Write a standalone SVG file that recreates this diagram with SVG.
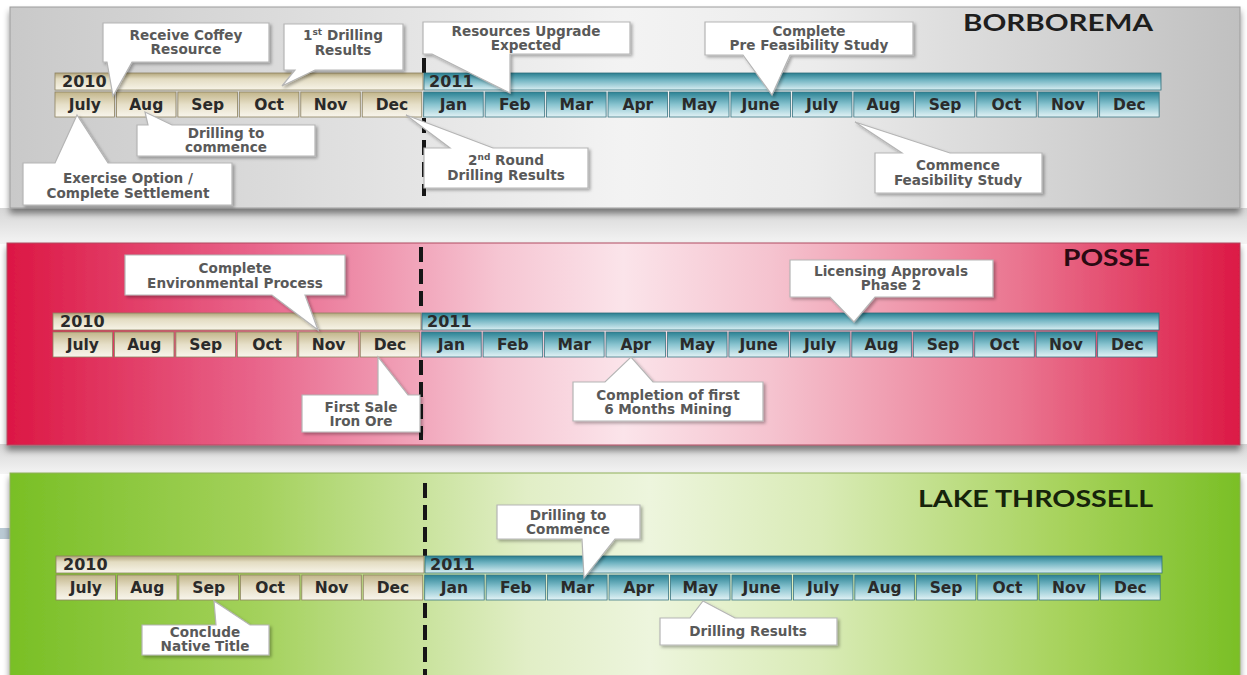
<svg xmlns="http://www.w3.org/2000/svg" width="1247" height="675" viewBox="0 0 1247 675">
<defs>
<linearGradient id="gGray" x1="0" y1="0" x2="1" y2="0">
<stop offset="0" stop-color="#c9c9c9"/><stop offset="0.3" stop-color="#e2e2e2"/><stop offset="0.5" stop-color="#f3f3f3"/><stop offset="0.65" stop-color="#ececec"/><stop offset="1" stop-color="#c0c0c0"/>
</linearGradient>
<linearGradient id="gRed" x1="0" y1="0" x2="1" y2="0">
<stop offset="0" stop-color="#dc1744"/><stop offset="0.2" stop-color="#e8648a"/><stop offset="0.4" stop-color="#f6c6d3"/><stop offset="0.5" stop-color="#fbe4ea"/><stop offset="0.62" stop-color="#f5c3cf"/><stop offset="0.82" stop-color="#ea7590"/><stop offset="1" stop-color="#dc1945"/>
</linearGradient>
<linearGradient id="gGreen" x1="0" y1="0" x2="1" y2="0">
<stop offset="0" stop-color="#79bf25"/><stop offset="0.2" stop-color="#a3d15b"/><stop offset="0.42" stop-color="#e1eec6"/><stop offset="0.52" stop-color="#edf5dd"/><stop offset="0.66" stop-color="#d9ebb6"/><stop offset="0.86" stop-color="#a6d25a"/><stop offset="1" stop-color="#7abf26"/>
</linearGradient>
<linearGradient id="gBand" x1="0" y1="0" x2="0" y2="1">
<stop offset="0" stop-color="#d6d6d6"/><stop offset="1" stop-color="#f4f4f4"/>
</linearGradient>
<linearGradient id="gBar10" x1="0" y1="0" x2="0" y2="1">
<stop offset="0" stop-color="#b3a67c"/><stop offset="0.35" stop-color="#e3dcc2"/><stop offset="1" stop-color="#f7f4e8"/>
</linearGradient>
<linearGradient id="gCell10" x1="0" y1="0" x2="0" y2="1">
<stop offset="0" stop-color="#c2b58a"/><stop offset="0.5" stop-color="#e6dfc8"/><stop offset="1" stop-color="#f8f5ec"/>
</linearGradient>
<linearGradient id="gBar11" x1="0" y1="0" x2="0" y2="1">
<stop offset="0" stop-color="#2a7f90"/><stop offset="0.4" stop-color="#6fb3c1"/><stop offset="1" stop-color="#d9eef2"/>
</linearGradient>
<linearGradient id="gCell11" x1="0" y1="0" x2="0" y2="1">
<stop offset="0" stop-color="#2b8294"/><stop offset="0.5" stop-color="#88c3cf"/><stop offset="1" stop-color="#e2f2f5"/>
</linearGradient>
<filter id="ps" x="-5%" y="-10%" width="110%" height="125%">
<feDropShadow dx="0" dy="5" stdDeviation="3" flood-color="#000" flood-opacity="0.45"/>
</filter>
<filter id="cs" x="-10%" y="-20%" width="125%" height="150%">
<feDropShadow dx="2" dy="2" stdDeviation="1.5" flood-color="#000" flood-opacity="0.3"/>
</filter>
<style>
.bar10{fill:url(#gBar10);stroke:#8d8260;stroke-width:0.8}
.bar11{fill:url(#gBar11);stroke:#2f6e7a;stroke-width:0.8}
.c10{fill:url(#gCell10);stroke:#8d8260;stroke-width:0.8}
.c11{fill:url(#gCell11);stroke:#3b7582;stroke-width:0.8}
.m{font-family:"DejaVu Sans",sans-serif;font-weight:bold;font-size:15.5px;fill:#2a2a2a;text-anchor:middle}
.y{font-family:"DejaVu Sans",sans-serif;font-weight:bold;font-size:16px;fill:#2a2a2a}
.co{fill:#ffffff;stroke:#b5b5b5;stroke-width:1.2;filter:url(#cs)}
.ct{font-family:"DejaVu Sans",sans-serif;font-weight:bold;font-size:13.6px;fill:#595959;text-anchor:middle}
.title{font-family:Lato,"DejaVu Sans",sans-serif;font-weight:bold;font-size:22px}
.div{stroke:#161616;stroke-width:4;stroke-dasharray:15 7;fill:none}
</style>
</defs>

<rect x="0" y="0" width="1247" height="675" fill="#ffffff"/>
<rect x="0" y="208" width="1247" height="36" fill="url(#gBand)"/>
<rect x="0" y="444" width="1247" height="30" fill="url(#gBand)"/>
<rect x="0" y="528" width="10" height="11" fill="#b9c9d3"/>

<g id="panel-borborema">
<rect x="10" y="7" width="1230" height="201" fill="url(#gGray)" stroke="#9c9c9c" stroke-width="1" filter="url(#ps)"/>
</g>
<g id="panel-posse">
<rect x="7" y="243" width="1233" height="202" fill="url(#gRed)" stroke="#b04a60" stroke-width="1" filter="url(#ps)"/>
</g>
<g id="panel-lake">
<rect x="10" y="473" width="1230" height="210" fill="url(#gGreen)" stroke="#8fb05a" stroke-width="1" filter="url(#ps)"/>
</g>

<g id="connectors">
<line class="div" x1="424" y1="58" x2="424" y2="73"/>
<line class="div" x1="424" y1="118" x2="424" y2="196"/>
<line class="div" x1="421" y1="247" x2="421" y2="313"/>
<line class="div" x1="421" y1="360" x2="421" y2="440"/>
<line class="div" x1="425" y1="483" x2="425" y2="556"/>
<line class="div" x1="425" y1="603" x2="425" y2="675"/>
</g>

<g id="timeline-borborema">
<rect class="bar10" x="55" y="73" width="368" height="17"/>
<rect class="bar11" x="424" y="73" width="737" height="17"/>
<text class="y" x="62" y="87">2010</text>
<text class="y" x="429" y="87">2011</text>
<rect class="c10" x="55" y="92" width="59.5" height="25"/>
<rect class="c10" x="116.45" y="92" width="59.5" height="25"/>
<rect class="c10" x="177.9" y="92" width="59.5" height="25"/>
<rect class="c10" x="239.35" y="92" width="59.5" height="25"/>
<rect class="c10" x="300.8" y="92" width="59.5" height="25"/>
<rect class="c10" x="362.25" y="92" width="59.5" height="25"/>
<rect class="c11" x="423.7" y="92" width="59.5" height="25"/>
<rect class="c11" x="485.15" y="92" width="59.5" height="25"/>
<rect class="c11" x="546.6" y="92" width="59.5" height="25"/>
<rect class="c11" x="608.05" y="92" width="59.5" height="25"/>
<rect class="c11" x="669.5" y="92" width="59.5" height="25"/>
<rect class="c11" x="730.95" y="92" width="59.5" height="25"/>
<rect class="c11" x="792.4" y="92" width="59.5" height="25"/>
<rect class="c11" x="853.85" y="92" width="59.5" height="25"/>
<rect class="c11" x="915.3" y="92" width="59.5" height="25"/>
<rect class="c11" x="976.75" y="92" width="59.5" height="25"/>
<rect class="c11" x="1038.2" y="92" width="59.5" height="25"/>
<rect class="c11" x="1099.65" y="92" width="59.5" height="25"/>
<text class="m" x="84.75" y="110">July</text>
<text class="m" x="146.2" y="110">Aug</text>
<text class="m" x="207.65" y="110">Sep</text>
<text class="m" x="269.1" y="110">Oct</text>
<text class="m" x="330.55" y="110">Nov</text>
<text class="m" x="392" y="110">Dec</text>
<text class="m" x="453.45" y="110">Jan</text>
<text class="m" x="514.9" y="110">Feb</text>
<text class="m" x="576.35" y="110">Mar</text>
<text class="m" x="637.8" y="110">Apr</text>
<text class="m" x="699.25" y="110">May</text>
<text class="m" x="760.7" y="110">June</text>
<text class="m" x="822.15" y="110">July</text>
<text class="m" x="883.6" y="110">Aug</text>
<text class="m" x="945.05" y="110">Sep</text>
<text class="m" x="1006.5" y="110">Oct</text>
<text class="m" x="1067.95" y="110">Nov</text>
<text class="m" x="1129.4" y="110">Dec</text>
</g>

<g id="timeline-posse" transform="translate(-2,240)">
<rect class="bar10" x="55" y="73" width="368" height="17"/>
<rect class="bar11" x="424" y="73" width="737" height="17"/>
<text class="y" x="62" y="87">2010</text>
<text class="y" x="429" y="87">2011</text>
<rect class="c10" x="55" y="92" width="59.5" height="25"/>
<rect class="c10" x="116.45" y="92" width="59.5" height="25"/>
<rect class="c10" x="177.9" y="92" width="59.5" height="25"/>
<rect class="c10" x="239.35" y="92" width="59.5" height="25"/>
<rect class="c10" x="300.8" y="92" width="59.5" height="25"/>
<rect class="c10" x="362.25" y="92" width="59.5" height="25"/>
<rect class="c11" x="423.7" y="92" width="59.5" height="25"/>
<rect class="c11" x="485.15" y="92" width="59.5" height="25"/>
<rect class="c11" x="546.6" y="92" width="59.5" height="25"/>
<rect class="c11" x="608.05" y="92" width="59.5" height="25"/>
<rect class="c11" x="669.5" y="92" width="59.5" height="25"/>
<rect class="c11" x="730.95" y="92" width="59.5" height="25"/>
<rect class="c11" x="792.4" y="92" width="59.5" height="25"/>
<rect class="c11" x="853.85" y="92" width="59.5" height="25"/>
<rect class="c11" x="915.3" y="92" width="59.5" height="25"/>
<rect class="c11" x="976.75" y="92" width="59.5" height="25"/>
<rect class="c11" x="1038.2" y="92" width="59.5" height="25"/>
<rect class="c11" x="1099.65" y="92" width="59.5" height="25"/>
<text class="m" x="84.75" y="110">July</text>
<text class="m" x="146.2" y="110">Aug</text>
<text class="m" x="207.65" y="110">Sep</text>
<text class="m" x="269.1" y="110">Oct</text>
<text class="m" x="330.55" y="110">Nov</text>
<text class="m" x="392" y="110">Dec</text>
<text class="m" x="453.45" y="110">Jan</text>
<text class="m" x="514.9" y="110">Feb</text>
<text class="m" x="576.35" y="110">Mar</text>
<text class="m" x="637.8" y="110">Apr</text>
<text class="m" x="699.25" y="110">May</text>
<text class="m" x="760.7" y="110">June</text>
<text class="m" x="822.15" y="110">July</text>
<text class="m" x="883.6" y="110">Aug</text>
<text class="m" x="945.05" y="110">Sep</text>
<text class="m" x="1006.5" y="110">Oct</text>
<text class="m" x="1067.95" y="110">Nov</text>
<text class="m" x="1129.4" y="110">Dec</text>
</g>

<g id="timeline-lake" transform="translate(1,483)">
<rect class="bar10" x="55" y="73" width="368" height="17"/>
<rect class="bar11" x="424" y="73" width="737" height="17"/>
<text class="y" x="62" y="87">2010</text>
<text class="y" x="429" y="87">2011</text>
<rect class="c10" x="55" y="92" width="59.5" height="25"/>
<rect class="c10" x="116.45" y="92" width="59.5" height="25"/>
<rect class="c10" x="177.9" y="92" width="59.5" height="25"/>
<rect class="c10" x="239.35" y="92" width="59.5" height="25"/>
<rect class="c10" x="300.8" y="92" width="59.5" height="25"/>
<rect class="c10" x="362.25" y="92" width="59.5" height="25"/>
<rect class="c11" x="423.7" y="92" width="59.5" height="25"/>
<rect class="c11" x="485.15" y="92" width="59.5" height="25"/>
<rect class="c11" x="546.6" y="92" width="59.5" height="25"/>
<rect class="c11" x="608.05" y="92" width="59.5" height="25"/>
<rect class="c11" x="669.5" y="92" width="59.5" height="25"/>
<rect class="c11" x="730.95" y="92" width="59.5" height="25"/>
<rect class="c11" x="792.4" y="92" width="59.5" height="25"/>
<rect class="c11" x="853.85" y="92" width="59.5" height="25"/>
<rect class="c11" x="915.3" y="92" width="59.5" height="25"/>
<rect class="c11" x="976.75" y="92" width="59.5" height="25"/>
<rect class="c11" x="1038.2" y="92" width="59.5" height="25"/>
<rect class="c11" x="1099.65" y="92" width="59.5" height="25"/>
<text class="m" x="84.75" y="110">July</text>
<text class="m" x="146.2" y="110">Aug</text>
<text class="m" x="207.65" y="110">Sep</text>
<text class="m" x="269.1" y="110">Oct</text>
<text class="m" x="330.55" y="110">Nov</text>
<text class="m" x="392" y="110">Dec</text>
<text class="m" x="453.45" y="110">Jan</text>
<text class="m" x="514.9" y="110">Feb</text>
<text class="m" x="576.35" y="110">Mar</text>
<text class="m" x="637.8" y="110">Apr</text>
<text class="m" x="699.25" y="110">May</text>
<text class="m" x="760.7" y="110">June</text>
<text class="m" x="822.15" y="110">July</text>
<text class="m" x="883.6" y="110">Aug</text>
<text class="m" x="945.05" y="110">Sep</text>
<text class="m" x="1006.5" y="110">Oct</text>
<text class="m" x="1067.95" y="110">Nov</text>
<text class="m" x="1129.4" y="110">Dec</text>
</g>

<!-- BORBOREMA callouts -->
<g id="c-receive-coffey">
<path class="co" d="M103,23 H269 V62 H132 L113,96 L107,62 H103 Z"/>
<text class="ct" x="186" y="40">Receive Coffey</text>
<text class="ct" x="186" y="54">Resource</text>
</g>
<g id="c-first-drilling">
<path class="co" d="M284,24 H403 V70 H315 L282,86 L295,70 H284 Z"/>
<text class="ct" x="343" y="40">1<tspan font-size="9" dy="-5">st</tspan><tspan dy="5"> Drilling</tspan></text>
<text class="ct" x="343" y="55">Results</text>
</g>
<g id="c-drilling-commence">
<path class="co" d="M137,125 H148 L145,112 L172,125 H315 V156 H137 Z"/>
<text class="ct" x="226" y="138">Drilling to</text>
<text class="ct" x="226" y="152">commence</text>
</g>
<g id="c-exercise-option">
<path class="co" d="M23,163 H55 L77,115 L108,163 H232 V205 H23 Z"/>
<text class="ct" x="128" y="183">Exercise Option /</text>
<text class="ct" x="128" y="198">Complete Settlement</text>
</g>
<g id="c-resources-upgrade">
<path class="co" d="M423,22 H630 V54 H510 V93 L432,54 H423 Z"/>
<text class="ct" x="526" y="36">Resources Upgrade</text>
<text class="ct" x="526" y="50">Expected</text>
</g>
<g id="c-pre-feasibility">
<path class="co" d="M705,22 H913 V55 H790 L772,95 L743,55 H705 Z"/>
<text class="ct" x="809" y="36">Complete</text>
<text class="ct" x="809" y="50">Pre Feasibility Study</text>
</g>
<g id="c-second-round">
<path class="co" d="M424,148 H450 L406,115 L493,148 H588 V188 H424 Z"/>
<text class="ct" x="506" y="165">2<tspan font-size="9" dy="-5">nd</tspan><tspan dy="5"> Round</tspan></text>
<text class="ct" x="506" y="180">Drilling Results</text>
</g>
<g id="c-commence-feasibility">
<path class="co" d="M875,153 H902 L855,122 L950,153 H1042 V193 H875 Z"/>
<text class="ct" x="958" y="170">Commence</text>
<text class="ct" x="958" y="185">Feasibility Study</text>
</g>

<!-- POSSE callouts -->
<g id="c-environmental">
<path class="co" d="M125,255 H345 V295 H305 L318,330 L272,295 H125 Z"/>
<text class="ct" x="235" y="273">Complete</text>
<text class="ct" x="235" y="288">Environmental Process</text>
</g>
<g id="c-first-sale">
<path class="co" d="M302,395 H378 V357 L408,395 H420 V432 H302 Z"/>
<text class="ct" x="361" y="412">First Sale</text>
<text class="ct" x="361" y="426">Iron Ore</text>
</g>
<g id="c-six-months">
<path class="co" d="M573,382 H605 L631,357 L653,382 H763 V421 H573 Z"/>
<text class="ct" x="668" y="400">Completion of first</text>
<text class="ct" x="668" y="414">6 Months Mining</text>
</g>
<g id="c-licensing">
<path class="co" d="M790,260 H993 V297 H875 L854,322 L830,297 H790 Z"/>
<text class="ct" x="891" y="276">Licensing Approvals</text>
<text class="ct" x="891" y="290">Phase 2</text>
</g>

<!-- LAKE THROSSELL callouts -->
<g id="c-native-title">
<path class="co" d="M142,625 H216 L214,601 L250,625 H269 V655 H142 Z"/>
<text class="ct" x="205" y="637">Conclude</text>
<text class="ct" x="205" y="651">Native Title</text>
</g>
<g id="c-drilling-commence-lt">
<path class="co" d="M497,505 H640 V539 H615 L584,578 L582,539 H497 Z"/>
<text class="ct" x="568" y="520">Drilling to</text>
<text class="ct" x="568" y="534">Commence</text>
</g>
<g id="c-drilling-results-lt">
<path class="co" d="M660,618 H690 L703,601 L735,618 H837 V645 H660 Z"/>
<text class="ct" x="748" y="636">Drilling Results</text>
</g>

<g id="titles">
<text class="title" x="963" y="31" fill="#1e1e1e" textLength="190" lengthAdjust="spacingAndGlyphs">BORBOREMA</text>
<text class="title" x="1063" y="266" fill="#2a0a12" textLength="87" lengthAdjust="spacingAndGlyphs">POSSE</text>
<text class="title" x="918" y="507" fill="#16230b" textLength="235" lengthAdjust="spacingAndGlyphs">LAKE THROSSELL</text>
</g>
</svg>
